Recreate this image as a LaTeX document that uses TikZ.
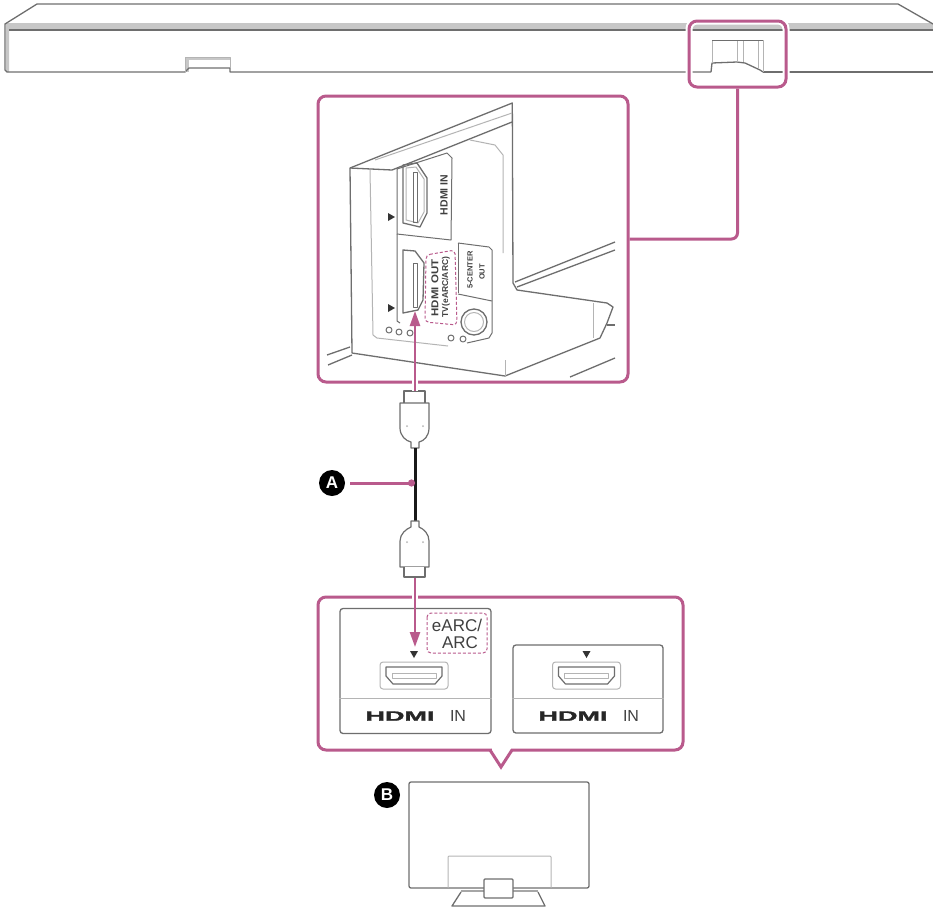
\documentclass[tikz,border=0pt]{standalone}
\usepackage{graphicx}
\usepackage{fontspec}
\setmainfont{Liberation Sans}
\newfontfamily\hdmifont[UprightFont=* Bold,FakeBold=1.5]{Liberation Sans}
\usetikzlibrary{arrows.meta,shapes.geometric}
\definecolor{mag}{HTML}{B95A8C}
\definecolor{ln}{HTML}{6E6E6E}
\definecolor{lt}{HTML}{B4B4B4}
\tikzset{
 panel/.style={draw=mag,line width=3pt,rounded corners=8pt,inner sep=0pt,fill=white,preaction={draw=white,line width=7pt}},
 conn/.style={draw=mag,line width=3pt,rounded corners=6pt},
 arrowmag/.style={draw=mag,line width=2.4pt,-{Triangle[length=15pt,width=10pt]}},
 halo/.style={draw=white,line width=6pt},
 gl/.style={draw=ln,line width=1.3pt,line join=round},
 tl/.style={draw=lt,line width=1pt,line join=round},
 inbox/.style={draw=ln,line width=1.3pt,rounded corners=3pt,inner sep=0pt},
 badge/.style={circle,fill=black,text=white,minimum size=26pt,inner sep=0pt,font=\fontsize{17}{17}\selectfont\bfseries},
 hdmilogo/.style={inner sep=0pt,font=\fontsize{13.5}{13.5}\hdmifont,xscale=2,text=black!85},
 intext/.style={inner sep=0pt,font=\fontsize{16}{16}\selectfont,text=black!75},
 rottext/.style={inner sep=0pt,rotate=90,text=black!75,font=\fontsize{10.5}{10.5}\selectfont\bfseries,align=center},
 dashmag/.style={draw=mag,line width=1pt,densely dashed,rounded corners=4pt},
}
\begin{document}
\begin{tikzpicture}[x=1pt,y=-1pt]
\useasboundingbox (0,0) rectangle (933,908);
% ---- sound bar
\fill[black!22] (6,23) -- (933,23) -- (933,30) -- (9,30) -- (9,72) -- (6,72) -- cycle;
\fill[black!22] (185,57) rectangle (230,60);
\fill[black!22] (185,57) rectangle (189,72);
\draw[gl] (933,24) -- (898,4) -- (37,4) -- (5,24) -- (5,70) -- (7,72) -- (185,72) -- (189,68) -- (230,68) -- (230,72) -- (711,72);
\draw[gl] (9,30) -- (933,30);
\draw[gl] (763,72) -- (933,72);
\draw[tl] (185,72) -- (185,57) -- (230,57) -- (230,68);
\draw[gl] (711,72) -- (712,63) -- (737,62) -- (745,63) -- (760,70) -- (763,72);
\draw[tl] (712,63) -- (712,40) -- (763,40) -- (763,72);
\draw[tl] (737,40) -- (737,62) (743,40) -- (743,62) (758,40) -- (758,68);
\draw[gl,line width=1pt] (712,40) -- (763,40);
% ---- highlight + panel
\node[draw=mag,line width=3pt,rounded corners=8pt,inner sep=0pt,preaction={draw=white,line width=7pt},minimum width=97pt,minimum height=66pt] (hl) at (737.5,54) {};
\node[panel,minimum width=310pt,minimum height=286pt] (p1) at (473,239) {};
\draw[conn] (hl.south) |- (p1.east);
% ---- rear view drawing
\begin{scope}
\draw[gl] (513,283) -- (512.3,103) -- (350,168) -- (352,353) -- (505,376) -- (600,338) -- (607,323) -- (613,307) -- (607,303) -- (517,290) -- (513,283);
\draw[gl] (350,168) -- (392,170) -- (512,122);
\draw[tl] (375,160) -- (512,113);
\draw[tl] (593,303) -- (593,338) (505,376) -- (505,360);
\draw[gl] (327,355) -- (350,347) (328,365) -- (352,355);
\draw[gl] (515,282) -- (615,242) (517,287) -- (615,250);
\draw[gl] (570,377) -- (615,358);
\draw[gl] (607,325) -- (615,325);
\draw[tl] (370,170) -- (373,335) -- (377,338) -- (448,346);
\draw[tl] (470,140) -- (495,145) -- (503,155) -- (503,253);
\draw[gl,line width=1pt] (397,169) -- (447,153) -- (452,158) -- (451,240) -- (397,234) -- cycle;
\draw[gl,line width=1pt] (397,234) -- (397,321) -- (400,323);
\draw[gl,line width=1pt] (458,243) -- (489,247) -- (492,250) -- (492,333) -- (489,338) -- (467,343);
\draw[gl,line width=1pt] (458,243) -- (458,293);
\draw[gl,line width=1pt] (458,294) -- (492,301);
% ports
\draw[gl] (403,165) -- (417,163) -- (427,178) -- (427,213) -- (420,227) -- (403,223) -- cycle;
\draw[tl] (406,168) -- (416,167) -- (424,179) -- (424,212) -- (418,223) -- (406,220) -- cycle;
\draw[gl,line width=1pt] (413,172) rectangle (417,222);
\draw[gl] (403,250) -- (415,251) -- (424,263) -- (423,300) -- (418,310) -- (403,313) -- cycle;
\draw[gl,line width=1pt] (413,263) rectangle (417,307);
\fill[black!80] (388,213) -- (395,217) -- (388,221) -- cycle;
\fill[black!80] (388,304) -- (395,308) -- (388,312) -- cycle;
% jack and dots
\draw[gl] (474,322) circle[radius=13pt];
\draw[tl] (474,322) circle[radius=9.5pt];
\foreach \a/\b in {389/330,399/332,410/333,451/338,463/339}
  \draw[gl,line width=1pt] (\a,\b) circle[radius=3pt];
% texts
\node[rottext] (t1) at (444,195) {HDMI IN};
\node[rottext,font=\fontsize{10}{10}\selectfont\bfseries] (t2) at (435,288) {\scalebox{1.15}[1]{HDMI OUT}};
\node[rottext,font=\fontsize{8.5}{8.5}\selectfont\bfseries] (t3) at (446,287) {TV(eARC/ARC)};
\node[rottext,font=\fontsize{7.5}{7.5}\selectfont\bfseries] (t4) at (470,270) {5-CENTER};
\node[rottext,font=\fontsize{7.5}{7.5}\selectfont\bfseries] (t5) at (482,272) {OUT};
\draw[dashmag] (426,255) -- (455,250) -- (457,325) -- (425,322) -- cycle;
\end{scope}
% ---- cable
\node[inner sep=0pt,minimum size=0pt] (plugA) at (415,391) {};
\node[inner sep=0pt,minimum size=0pt] (plugB) at (415,578) {};
\coordinate (upTip) at (415,311);
\coordinate (dnTip) at (415,647);
\draw[gl,line width=1.2pt,fill=white] (404,403) -- (404,391) -- (425,391) -- (425,403);
\draw[gl,line width=1.2pt,fill=white] (400,403) -- (429,403) -- (429,428) .. controls (429,436) and (424,441) .. (419,442) -- (419,448) -- (411,448) -- (411,442) .. controls (406,441) and (400,436) .. (400,428) -- cycle;
\draw[line width=3pt,black!90] (415,448) -- (415,521);
\draw[gl,line width=1.2pt,fill=white] (400,567) -- (429,567) -- (429,541) .. controls (429,534) and (424,529) .. (419,527) -- (419,521) -- (411,521) -- (411,527) .. controls (406,529) and (400,534) .. (400,541) -- cycle;
\draw[gl,line width=1.2pt,fill=white] (404,567) -- (404,577) -- (425,577) -- (425,567);
\foreach \a/\b in {407/426,423/426,407/542,423/542}
  \fill[lt] (\a,\b) circle[radius=1pt];
% ---- lower panel
\node[panel,minimum width=365pt,minimum height=153pt] (p2) at (500.5,673.5) {};
\fill[white] (491.5,747) rectangle (510.5,753);
\draw[draw=mag,line width=3pt,line join=miter] (490,750) -- (501,767) -- (512,750);
\node[inbox,minimum width=151pt,minimum height=125pt] (b1) at (415.5,671) {};
\node[inbox,minimum width=150pt,minimum height=88pt] (b2) at (588,689) {};
\draw[tl] (b1.west |- 0,698) -- (b1.east |- 0,698);
\draw[tl] (b2.west |- 0,698) -- (b2.east |- 0,698);
\foreach \x in {414,586.5}{
 \fill[black!80] (\x-4,651) -- (\x+4,651) -- (\x,658) -- cycle;
 \draw[tl,rounded corners=3pt] (\x-34,662) rectangle (\x+34,689);
 \draw[gl,line width=1.2pt] (\x-28,667) -- (\x+28,667) -- (\x+28,676) -- (\x+21,684) -- (\x-21,684) -- (\x-28,676) -- cycle;
 \draw[tl] (\x-22,673) rectangle (\x+22,678);
}
\node[hdmilogo] (lg1) at (400,716) {HDMI};
\node[intext] (in1) at (458,716) {IN};
\node[hdmilogo] (lg2) at (573,716) {HDMI};
\node[intext] (in2) at (631,716) {IN};
\node[inner sep=0pt,font=\fontsize{17}{17}\selectfont,text=black!75] (earc1) at (457,625) {eARC/};
\node[inner sep=0pt,font=\fontsize{17}{17}\selectfont,text=black!75] (earc2) at (460,643) {ARC};
\draw[dashmag] (427,613) rectangle (487,653);
% ---- arrows
\draw[halo] (plugA) -- (415,372);
\draw[arrowmag] (plugA) -- (upTip);
\draw[halo] (plugB) -- (415,605);
\draw[arrowmag] (plugB) -- (dnTip);
% ---- labels
\node[badge] (labA) at (332,483) {A};
\coordinate (cableA) at (415,483);
\draw[draw=mag,line width=3pt,shorten <=5pt,-{Circle[length=7pt]}] (labA.east) -- (cableA);
\node[badge] (labB) at (387,795) {B};
% ---- TV
\draw[gl,rounded corners=2pt] (409,782) rectangle (589,888);
\draw[tl,rounded corners=1pt] (448,888) -- (448,856) -- (551,856) -- (551,888);
\draw[gl] (461,892) -- (452,906) -- (545,906) -- (538,892);
\draw[black!35,line width=1.2pt] (461,891) -- (484,891) (513,891) -- (538,891);
\draw[gl,fill=white,rounded corners=1pt] (484,879) rectangle (513,898);
\end{tikzpicture}
\end{document}
